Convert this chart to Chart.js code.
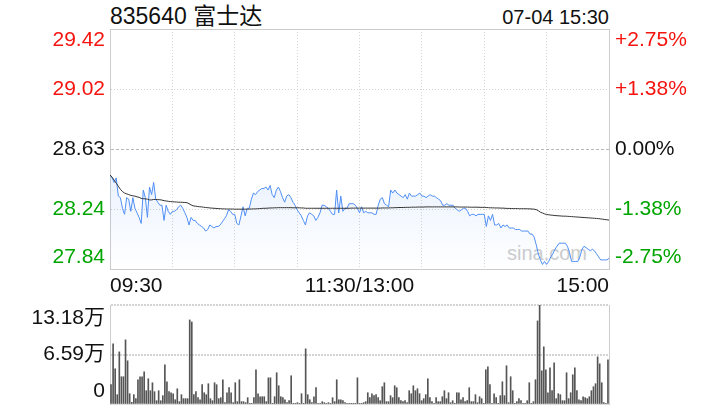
<!DOCTYPE html>
<html><head><meta charset="utf-8">
<script src="https://cdn.jsdelivr.net/npm/chart.js@4/dist/chart.umd.min.js"></script>
<style>
html,body{margin:0;padding:0;background:#fff;width:720px;height:420px;overflow:hidden;font-family:"Liberation Sans","Noto Sans CJK SC",sans-serif;}
#wrap{position:relative;width:720px;height:420px;overflow:hidden;}
.t{position:absolute;white-space:nowrap;line-height:1;}
#title{left:110px;top:4.5px;font-size:23px;color:#111;}
#date{right:111px;top:7px;font-size:20px;color:#111;}
#wm{left:507px;top:243px;font-size:20px;color:#cdcdcd;}
#c1{position:absolute;left:0;top:0;z-index:1;}
#c2{position:absolute;left:0;top:265px;z-index:1;}
</style></head>
<body><div id="wrap">
<div class="t" id="title">835640 富士达</div>
<div class="t" id="date">07-04 15:30</div>
<div class="t" id="wm">sina.com</div>
<canvas id="c1" width="720" height="300"></canvas>
<canvas id="c2" width="720" height="175"></canvas>
</div>
<script>
// ---------- data ----------
const priceTickValues = [27.84, 28.235, 28.63, 29.025, 29.42];
const priceTickLabels = ['27.84', '28.24', '28.63', '29.02', '29.42'];
const pctTickLabels = ['-2.75%', '-1.38%', '0.00%', '+1.38%', '+2.75%'];
const xGridValues = [0, 30, 60, 90, 120, 150, 180, 210, 240];
const xTickLabels = ['09:30', '', '', '', '11:30/13:00', '', '', '', '15:00'];
const volTickValues = [0, 6.59, 13.18];
const volTickLabels = ['0', '6.59万', '13.18万'];

const prices = [
28.46,28.44,28.41,28.44,28.32,28.31,28.24,28.20,28.31,28.30,
28.22,28.31,28.24,28.21,28.18,28.14,28.36,28.31,28.18,28.38,
28.33,28.41,28.30,28.28,28.26,28.26,28.16,28.26,28.22,28.20,
28.22,28.22,28.23,28.25,28.26,28.24,28.21,28.18,28.13,28.18,
28.16,28.16,28.14,28.13,28.12,28.11,28.09,28.10,28.13,28.12,
28.11,28.12,28.12,28.13,28.15,28.17,28.19,28.23,28.22,28.20,
28.20,28.14,28.13,28.19,28.25,28.19,28.24,28.24,28.30,28.34,
28.33,28.35,28.36,28.37,28.37,28.38,28.36,28.39,28.33,28.31,
28.36,28.38,28.35,28.31,28.28,28.32,28.33,28.31,28.28,28.26,
28.23,28.21,28.19,28.16,28.13,28.19,28.21,28.20,28.19,28.16,
28.18,28.21,28.26,28.26,28.25,28.24,28.22,28.20,28.20,28.36,
28.21,28.32,28.22,28.24,28.24,28.27,28.27,28.27,28.26,28.24,
28.21,28.25,28.21,28.22,28.21,28.21,28.21,28.20,28.20,28.26,
28.30,28.31,28.27,28.26,28.25,28.36,28.34,28.36,28.34,28.33,
28.32,28.31,28.33,28.30,28.34,28.32,28.32,28.32,28.33,28.34,
28.32,28.32,28.31,28.32,28.33,28.32,28.32,28.31,28.30,28.29,
28.26,28.26,28.27,28.26,28.26,28.26,28.24,28.23,28.22,28.23,
28.24,28.24,28.22,28.19,28.20,28.20,28.19,28.20,28.20,28.20,
28.20,28.12,28.19,28.16,28.20,28.13,28.13,28.14,28.11,28.13,
28.12,28.13,28.11,28.11,28.11,28.10,28.10,28.10,28.09,28.09,
28.09,28.09,28.07,28.07,28.05,28.00,27.94,27.90,27.87,27.89,
27.87,27.89,27.92,27.94,27.97,27.99,28.01,28.01,28.01,28.01,
27.99,27.95,27.89,27.89,27.89,27.89,27.92,27.97,27.99,27.98,
27.97,27.96,27.97,27.96,27.94,27.92,27.90,27.90,27.90,27.90,
27.91
];

const avgPrices = [
28.460,28.445,28.425,28.405,28.385,28.365,28.350,28.340,28.335,28.330,
28.325,28.322,28.320,28.315,28.312,28.305,28.303,28.302,28.300,28.295,
28.295,28.298,28.298,28.297,28.296,28.294,28.290,28.288,28.286,28.284,
28.283,28.282,28.281,28.280,28.280,28.279,28.278,28.277,28.270,28.262,
28.256,28.254,28.252,28.250,28.249,28.247,28.245,28.244,28.242,28.241,
28.240,28.239,28.238,28.237,28.236,28.236,28.235,28.235,28.235,28.235,
28.234,28.234,28.234,28.234,28.234,28.234,28.234,28.235,28.235,28.236,
28.236,28.237,28.238,28.239,28.240,28.240,28.241,28.242,28.242,28.243,
28.243,28.244,28.244,28.244,28.244,28.244,28.244,28.244,28.243,28.243,
28.243,28.243,28.242,28.242,28.240,28.240,28.240,28.240,28.240,28.240,
28.240,28.240,28.240,28.240,28.240,28.240,28.240,28.240,28.240,28.240,
28.240,28.240,28.240,28.240,28.240,28.240,28.241,28.241,28.241,28.241,
28.241,28.241,28.241,28.241,28.241,28.241,28.241,28.241,28.241,28.241,
28.241,28.242,28.242,28.242,28.242,28.243,28.243,28.244,28.244,28.245,
28.245,28.245,28.246,28.246,28.246,28.247,28.247,28.247,28.248,28.248,
28.248,28.248,28.249,28.249,28.249,28.249,28.249,28.249,28.249,28.249,
28.249,28.249,28.249,28.249,28.249,28.249,28.249,28.249,28.248,28.248,
28.248,28.248,28.248,28.247,28.247,28.247,28.247,28.247,28.246,28.246,
28.246,28.245,28.244,28.243,28.243,28.242,28.242,28.242,28.241,28.241,
28.240,28.239,28.239,28.238,28.238,28.238,28.238,28.237,28.237,28.237,
28.237,28.236,28.236,28.235,28.234,28.231,28.224,28.214,28.209,28.203,
28.199,28.197,28.195,28.194,28.192,28.191,28.190,28.189,28.188,28.188,
28.187,28.186,28.185,28.184,28.183,28.182,28.181,28.180,28.179,28.178,
28.177,28.176,28.175,28.174,28.173,28.172,28.170,28.168,28.166,28.164,
28.162
];

// volume in 万
const volumes = [
2.57,8.01,4.69,1.24,6.94,3.63,3.63,8.54,5.75,1.37,
0.22,1.24,0.71,3.23,3.63,3.63,4.29,1.77,3.36,1.77,
2.83,1.64,0.44,1.77,0.44,1.11,5.22,2.96,1.64,1.50,
1.37,0.57,2.03,0.31,1.24,0.71,0.71,0.71,11.19,10.92,
1.24,1.64,0.84,0.57,2.57,1.50,1.24,2.70,0.71,0.44,
2.83,2.57,0.71,0.84,3.23,0.18,1.50,2.17,1.50,0.18,
2.83,0.31,3.23,0.31,0.31,0.18,0.84,0.04,0.04,0.84,
4.56,1.37,0.97,0.97,0.97,0.31,3.49,3.49,0.04,0.97,
4.16,2.43,0.97,0.84,0.57,0.18,0.44,3.76,0.05,0.05,
0.18,0.04,1.37,0.04,7.34,1.24,0.57,0.18,0.97,2.17,
0.04,0.04,0.31,0.18,0.04,0.18,0.04,0.84,0.31,3.23,
0.57,0.57,0.44,0.18,0.04,0.02,0.02,0.02,0.04,3.49,
0.04,0.02,0.18,0.31,1.50,0.84,1.37,1.11,1.24,0.84,
0.44,2.30,2.83,0.31,0.31,1.11,0.84,2.43,2.17,0.84,
0.44,0.31,0.44,0.18,1.77,1.37,2.43,1.77,2.03,1.37,
0.44,0.71,1.24,3.36,0.84,0.31,0.04,0.84,0.31,0.31,
0.97,1.77,0.71,1.50,0.18,0.44,0.04,1.50,1.50,0.57,
0.84,0.31,0.44,2.17,0.31,0.31,1.24,0.18,0.97,0.71,
0.04,4.56,4.95,2.57,0.04,1.37,0.84,0.04,1.11,2.96,
1.11,5.09,0.18,3.63,1.77,0.02,0.31,0.71,0.44,0.04,
0.04,0.44,2.83,0.02,0.31,3.23,11.06,13.18,4.42,7.61,
4.56,1.50,4.82,1.77,5.48,0.71,1.37,1.24,0.44,0.44,
4.16,0.71,1.50,3.89,4.82,1.77,0.57,0.44,0.97,0.84,
0.71,0.97,1.77,2.30,2.70,6.28,5.35,2.83,0.18,0.04,
5.88
];

// ---------- styles ----------
const FONT = '"Liberation Sans", "Noto Sans CJK SC", sans-serif';
Chart.defaults.font.family = FONT;
const RED = 'rgb(245,20,15)', GREEN = 'rgb(0,165,0)', BLACK = '#111111';
const tickColors = [GREEN, GREEN, BLACK, RED, RED];
const CLEAR = 'rgba(0,0,0,0)';
const BORDER = '#cccccc';

function edgeLabel(lbl, i, n) {
  if (i === n - 1) return ['', lbl];
  if (i === 0) return [lbl, ''];
  return lbl;
}

const priceData = prices.map((p, i) => ({x: i, y: p}));
const avgData = avgPrices.map((p, i) => ({x: i, y: p}));
const volData = volumes.map((v, i) => ({x: i, y: v}));

new Chart(document.getElementById('c1'), {
  type: 'line',
  data: {
    datasets: [
      {
        data: priceData,
        borderColor: '#4f8ff5',
        borderWidth: 1,
        pointRadius: 0,
        tension: 0,
        fill: 'start',
        backgroundColor: (ctx) => {
          const ca = ctx.chart.chartArea;
          if (!ca) return 'rgba(79,143,245,0.08)';
          const g = ctx.chart.ctx.createLinearGradient(0, 170, 0, ca.bottom);
          g.addColorStop(0, 'rgba(79,143,245,0.12)');
          g.addColorStop(1, 'rgba(79,143,245,0.0)');
          return g;
        },
        order: 2
      },
      {
        data: avgData,
        borderColor: '#333333',
        borderWidth: 1,
        pointRadius: 0,
        tension: 0,
        fill: false,
        order: 1
      }
    ]
  },
  options: {
    responsive: false,
    animation: false,
    events: [],
    layout: {padding: {top: 29, left: 0, right: 0, bottom: 0}},
    plugins: {legend: {display: false}, tooltip: {enabled: false}},
    scales: {
      x: {
        type: 'linear', min: 0, max: 240, offset: false,
        afterBuildTicks: (s) => { s.ticks = xGridValues.map(v => ({value: v})); },
        afterFit: (s) => { s.height = 31; },
        ticks: {
          autoSkip: false, maxRotation: 0, minRotation: 0, align: 'inner', padding: 5,
          color: BLACK, font: {size: 21},
          callback: (v, i) => xTickLabels[i]
        },
        grid: {
          drawTicks: false, lineWidth: 1, offset: false,
          color: (c) => (c.index === 0 || c.index === xGridValues.length - 1) ? CLEAR : '#d2d2d2'
        },
        border: {display: true, color: BORDER, dash: [1, 2]}
      },
      y: {
        position: 'left', min: 27.84, max: 29.42,
        afterBuildTicks: (s) => { s.ticks = priceTickValues.map(v => ({value: v})); },
        afterFit: (s) => { s.width = 110; },
        ticks: {
          autoSkip: false, padding: 5,
          font: {size: 21, lineHeight: 1.1},
          color: (c) => tickColors[c.index],
          callback: (v, i) => edgeLabel(priceTickLabels[i], i, priceTickLabels.length)
        },
        grid: {
          drawTicks: false, lineWidth: 1,
          color: (c) => c.index === 0 ? CLEAR : (c.index === 4 ? BORDER : (c.index === 2 ? '#b8b8b8' : '#d2d2d2'))
        },
        border: {
          display: true, color: BORDER,
          dash: (c) => c.index === 4 ? [] : (c.index === 2 ? [3, 2] : [1, 2])
        }
      },
      y2: {
        position: 'right', min: 27.84, max: 29.42,
        afterBuildTicks: (s) => { s.ticks = priceTickValues.map(v => ({value: v})); },
        afterFit: (s) => { s.width = 111; },
        ticks: {
          autoSkip: false, padding: 6,
          font: {size: 21, lineHeight: 1.1},
          color: (c) => tickColors[c.index],
          callback: (v, i) => edgeLabel(pctTickLabels[i], i, pctTickLabels.length)
        },
        grid: {drawOnChartArea: false, drawTicks: false},
        border: {display: true, color: BORDER}
      }
    }
  }
});

new Chart(document.getElementById('c2'), {
  type: 'bar',
  data: {
    datasets: [{
      data: volData,
      backgroundColor: '#555555',
      borderWidth: 0,
      barThickness: 1,
      yAxisID: 'y'
    }]
  },
  options: {
    responsive: false,
    animation: false,
    events: [],
    layout: {padding: {top: 40, left: 0, right: 111, bottom: 36}},
    plugins: {legend: {display: false}, tooltip: {enabled: false}},
    scales: {
      x: {
        type: 'linear', min: -0.5, max: 240.5, offset: false,
        afterFit: (s) => { s.height = 0; },
        ticks: {display: false},
        grid: {display: false, drawTicks: false, offset: false},
        border: {display: true, color: '#dddddd'}
      },
      y: {
        position: 'left', min: 0, max: 13.18,
        afterBuildTicks: (s) => { s.ticks = volTickValues.map(v => ({value: v})); },
        afterFit: (s) => { s.width = 110; },
        ticks: {
          autoSkip: false, padding: 5, color: BLACK,
          font: {size: 21, lineHeight: 0.62},
          callback: (v, i) => {
            const l = volTickLabels[i];
            if (i === volTickLabels.length - 1) return ['', '', l];
            if (i === 0) return [l, '', ''];
            return l;
          }
        },
        grid: {
          drawTicks: false,
          lineWidth: (c) => c.index === 0 ? 1 : 2,
          color: (c) => c.index === 0 ? CLEAR : '#d4d4d4'
        },
        border: {display: true, color: BORDER, dash: [2, 1]}
      },
      yR: {
        position: 'right', min: 0, max: 13.18,
        afterFit: (s) => { s.width = 0; },
        ticks: {display: false},
        grid: {drawOnChartArea: false, drawTicks: false},
        border: {display: true, color: BORDER}
      }
    }
  }
});
</script>
</body></html>
